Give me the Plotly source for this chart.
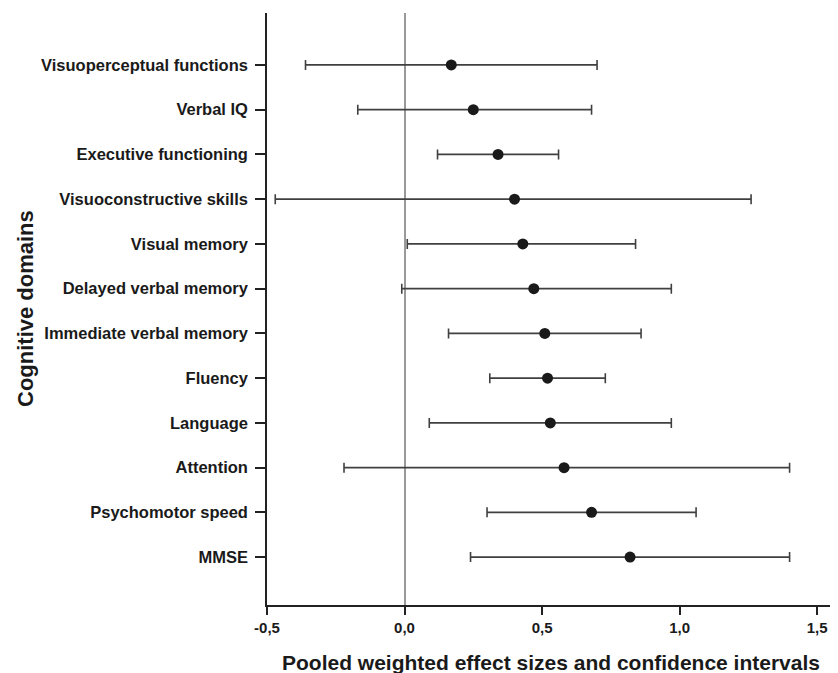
import plotly.graph_objects as go

# Data (top to bottom as shown)
domains = ["Visuoperceptual functions", "Verbal IQ", "Executive functioning",
           "Visuoconstructive skills", "Visual memory", "Delayed verbal memory",
           "Immediate verbal memory", "Fluency", "Language", "Attention",
           "Psychomotor speed", "MMSE"]
effect = [0.17, 0.25, 0.34, 0.40, 0.43, 0.47, 0.51, 0.52, 0.53, 0.58, 0.68, 0.82]
ci_low = [-0.36, -0.17, 0.12, -0.47, 0.01, -0.01, 0.16, 0.31, 0.09, -0.22, 0.30, 0.24]
ci_high = [0.70, 0.68, 0.56, 1.26, 0.84, 0.97, 0.86, 0.73, 0.97, 1.40, 1.06, 1.40]

x_tickvals = [-0.5, 0.0, 0.5, 1.0, 1.5]
x_ticktext = ["-0,5", "0,0", "0,5", "1,0", "1,5"]

x_title = "Pooled weighted effect sizes and confidence intervals"
y_title = "Cognitive domains"

err_plus = [h - e for h, e in zip(ci_high, effect)]
err_minus = [e - l for e, l in zip(effect, ci_low)]

fig = go.Figure()
fig.add_trace(go.Scatter(
    x=effect, y=domains, mode="markers",
    marker=dict(color="#1a1a1a", size=11),
    error_x=dict(type="data", symmetric=False, array=err_plus, arrayminus=err_minus,
                 color="#404040", thickness=1.6, width=5),
    showlegend=False, cliponaxis=False,
))

fig.update_layout(
    width=830, height=665,
    margin=dict(l=259, r=0, t=5, b=68),
    paper_bgcolor="white", plot_bgcolor="white",
    font=dict(family="Liberation Sans, Arial, sans-serif", color="#1a1a1a"),
    xaxis=dict(
        range=[-0.5, 1.576], tickvals=x_tickvals, ticktext=x_ticktext,
        showgrid=False, showline=True, linecolor="#222", linewidth=1.5,
        ticks="outside", ticklen=8, tickwidth=1.5, tickcolor="#222",
        tickfont=dict(family="Liberation Sans Narrow, Liberation Sans, Arial", size=15,
                      weight="bold", color="#1a1a1a"),
        zeroline=True, zerolinecolor="#999999", zerolinewidth=1.5,
    ),
    yaxis=dict(
        type="category", categoryorder="array", categoryarray=domains[::-1],
        range=[-1.07, 12.16],
        showgrid=False, showline=True, linecolor="#222", linewidth=1.5,
        ticks="outside", ticklen=10, tickwidth=1.5, tickcolor="#222",
        ticklabelstandoff=4,
        tickfont=dict(family="Liberation Sans, Arial", size=16.5, weight="bold",
                      color="#1a1a1a"),
    ),
    annotations=[
        dict(text=x_title, xref="paper", yref="paper", x=0.5, y=0,
             xanchor="center", yanchor="middle", yshift=-57, xshift=-2,
             showarrow=False,
             font=dict(family="Liberation Sans, Arial", size=21, weight="bold",
                       color="#1a1a1a")),
        dict(text=y_title, xref="paper", yref="paper", x=0, y=0.5,
             xanchor="center", yanchor="middle", xshift=-242, textangle=-90,
             showarrow=False,
             font=dict(family="Liberation Sans, Arial", size=22, weight="bold",
                       color="#1a1a1a")),
    ],
)

fig.write_html("out.html")
